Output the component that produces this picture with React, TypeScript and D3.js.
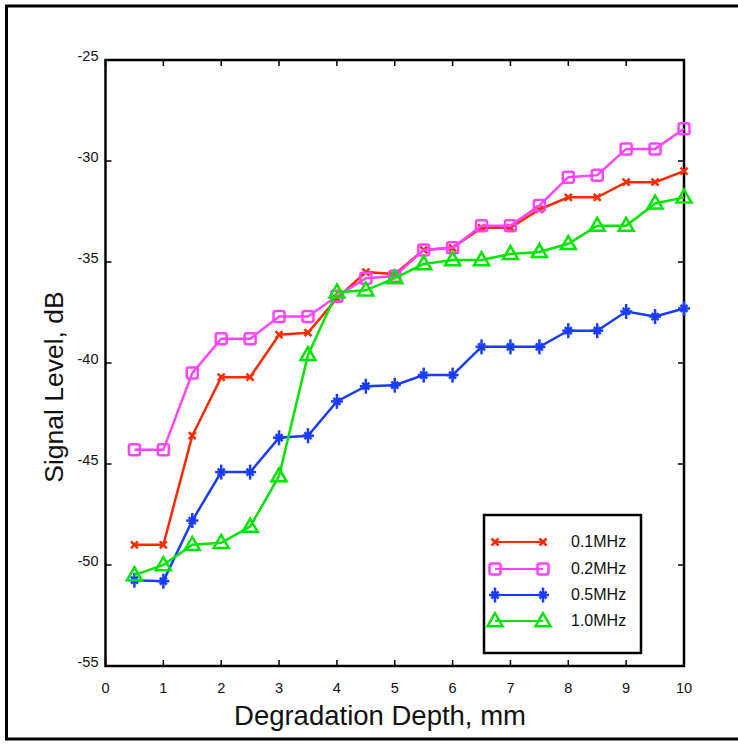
import React from "react";
import * as d3 from "d3";

const depths = [0.5, 1, 1.5, 2, 2.5, 3, 3.5, 4, 4.5, 5, 5.5, 6, 6.5, 7, 7.5, 8, 8.5, 9, 9.5, 10];
const s01 = [-49.0, -49.0, -43.6, -40.7, -40.7, -38.6, -38.5, -36.8, -35.5, -35.6, -34.4, -34.3, -33.3, -33.3, -32.4, -31.8, -31.8, -31.05, -31.05, -30.5];
const s02 = [-44.3, -44.3, -40.5, -38.8, -38.8, -37.7, -37.7, -36.7, -35.8, -35.7, -34.4, -34.3, -33.2, -33.2, -32.2, -30.8, -30.7, -29.4, -29.4, -28.4];
const s05 = [-50.75, -50.8, -47.8, -45.4, -45.4, -43.7, -43.6, -41.9, -41.15, -41.1, -40.6, -40.6, -39.2, -39.2, -39.2, -38.4, -38.4, -37.45, -37.7, -37.3];
const s10 = [-50.5, -50.0, -49.0, -48.9, -48.1, -45.6, -39.6, -36.5, -36.4, -35.8, -35.1, -34.9, -34.9, -34.6, -34.5, -34.1, -33.2, -33.2, -32.1, -31.8];
const seriesNames = ["0.1MHz", "0.2MHz", "0.5MHz", "1.0MHz"];
const xTicks = [0, 1, 2, 3, 4, 5, 6, 7, 8, 9, 10];
const yTicks = [-25, -30, -35, -40, -45, -50, -55];

const colors = ["#ff2a00", "#ff44ff", "#1a3cff", "#00e600"];
const allSeries = [s01, s02, s05, s10];

const X0 = 105.5, X1 = 684, Y0 = 60, Y1 = 666;
const FONT = "'Liberation Sans', Arial, Helvetica, sans-serif";

function Marker({ kind, x, y, color }: { kind: number; x: number; y: number; color: string }) {
  if (kind === 0) {
    const r = 3.5;
    return (
      <g stroke={color} strokeWidth={2.5}>
        <line x1={x - r} y1={y - r} x2={x + r} y2={y + r} />
        <line x1={x - r} y1={y + r} x2={x + r} y2={y - r} />
      </g>
    );
  }
  if (kind === 1) {
    const r = 5.5;
    return <rect x={x - r} y={y - r} width={2 * r} height={2 * r} rx={2} fill="none" stroke={color} strokeWidth={2.5} />;
  }
  if (kind === 2) {
    return (
      <g stroke={color} strokeWidth={2.5}>
        <line x1={x} y1={y - 7.5} x2={x} y2={y + 7.5} />
        <line x1={x - 6} y1={y} x2={x + 6} y2={y} />
        <line x1={x - 3.5} y1={y - 3.5} x2={x + 3.5} y2={y + 3.5} />
        <line x1={x - 3.5} y1={y + 3.5} x2={x + 3.5} y2={y - 3.5} />
      </g>
    );
  }
  const h = 13, w = 15;
  const pts = `${x},${y - h * 0.6} ${x - w / 2},${y + h * 0.4} ${x + w / 2},${y + h * 0.4}`;
  return <polygon points={pts} fill="none" stroke={color} strokeWidth={2.5} strokeLinejoin="miter" />;
}

export default function App() {
  const x = d3.scaleLinear().domain([0, 10]).range([X0, X1]);
  const y = d3.scaleLinear().domain([-55, -25]).range([Y1, Y0]);
  const line = d3.line<[number, number]>().x((d) => x(d[0])).y((d) => y(d[1]));

  const legX1 = 495, legX2 = 543, legRows = [542, 569, 595, 621];

  return (
    <svg width={738} height={744} style={{ position: "absolute", left: 0, top: 0 }} fontFamily={FONT}>
      <rect x={0} y={0} width={738} height={744} fill="#fff" />
      <rect x={6.5} y={6} width={760} height={733} fill="none" stroke="#000" strokeWidth={3} />

      {xTicks.map((t) => (
        <g key={"xt" + t} stroke="#000" strokeWidth={1.5}>
          <line x1={x(t)} x2={x(t)} y1={Y1} y2={Y1 - 6} />
          <line x1={x(t)} x2={x(t)} y1={Y0} y2={Y0 + 6} />
        </g>
      ))}
      {yTicks.map((t) => (
        <g key={"yt" + t} stroke="#000" strokeWidth={1.5}>
          <line x1={X0} x2={X0 + 6} y1={y(t)} y2={y(t)} />
          <line x1={X1} x2={X1 - 6} y1={y(t)} y2={y(t)} />
        </g>
      ))}
      <rect x={X0} y={Y0} width={X1 - X0} height={Y1 - Y0} fill="none" stroke="#000" strokeWidth={2.5} />

      {xTicks.map((t) => (
        <text key={"xl" + t} x={x(t)} y={Y1 + 27} textAnchor="middle" fontSize={14.5} fill="#111">
          {t}
        </text>
      ))}
      {yTicks.map((t) => (
        <text key={"yl" + t} x={X0 - 7} y={y(t) + 1} textAnchor="end" fontSize={14.5} fill="#111">
          {t}
        </text>
      ))}

      <text x={380} y={725} textAnchor="middle" fontSize={27.5} fill="#111">
        Degradation Depth, mm
      </text>
      <text transform={`translate(63,387) rotate(-90)`} textAnchor="middle" fontSize={26.5} fill="#111">
        Signal Level, dB
      </text>

      {allSeries.map((s, i) => {
        const pts: [number, number][] = depths.map((d, j) => [d, s[j]]);
        return (
          <g key={"s" + i}>
            <path d={line(pts) || ""} fill="none" stroke={colors[i]} strokeWidth={2.5} />
            {pts.map((p, j) => (
              <Marker key={j} kind={i} x={x(p[0])} y={y(p[1])} color={colors[i]} />
            ))}
          </g>
        );
      })}

      <rect x={484} y={515} width={157} height={138} fill="#fff" stroke="#000" strokeWidth={2.5} />
      {seriesNames.map((n, i) => (
        <g key={"lg" + i}>
          <line x1={legX1} x2={legX2} y1={legRows[i]} y2={legRows[i]} stroke={colors[i]} strokeWidth={2} />
          <Marker kind={i} x={legX1} y={legRows[i]} color={colors[i]} />
          <Marker kind={i} x={legX2} y={legRows[i]} color={colors[i]} />
          <text x={571} y={legRows[i] + 5} fontSize={16} fill="#111">
            {n}
          </text>
        </g>
      ))}
    </svg>
  );
}
